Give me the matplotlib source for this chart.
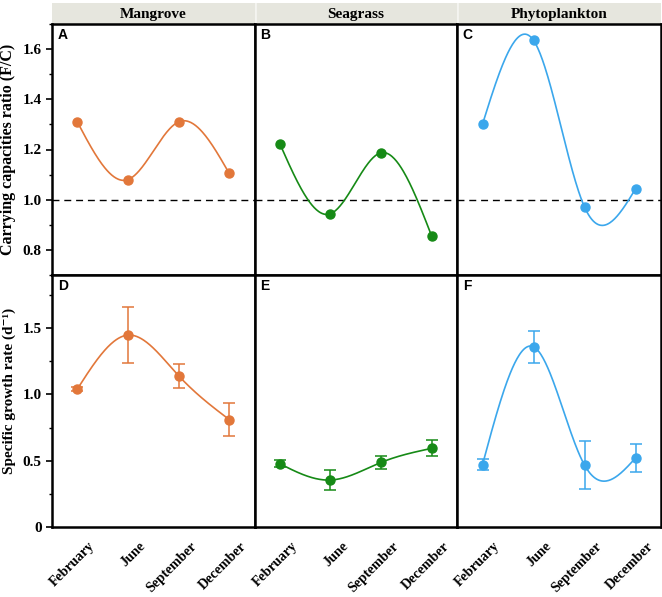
import numpy as np
import matplotlib
matplotlib.use("Agg")
import matplotlib.pyplot as plt
from matplotlib.ticker import MultipleLocator, FixedLocator
from matplotlib.transforms import ScaledTranslation

# ---- data ----
months = ["February", "June", "September", "December"]
groups = ["Mangrove", "Seagrass", "Phytoplankton"]
colors = ["#E2773A", "#168A16", "#3BA7EC"]

ratio_mangrove = [1.31, 1.08, 1.31, 1.105]
ratio_seagrass = [1.223, 0.944, 1.187, 0.855]
ratio_phyto = [1.301, 1.635, 0.971, 1.043]

growth_mangrove = [1.04, 1.447, 1.141, 0.81]
growth_seagrass = [0.477, 0.354, 0.487, 0.593]
growth_phyto = [0.47, 1.359, 0.467, 0.52]

err_mangrove = [0.015, 0.21, 0.09, 0.122]
err_seagrass = [0.027, 0.075, 0.046, 0.06]
err_phyto = [0.04, 0.12, 0.183, 0.108]

ratios = [ratio_mangrove, ratio_seagrass, ratio_phyto]
growths = [growth_mangrove, growth_seagrass, growth_phyto]
errs = [err_mangrove, err_seagrass, err_phyto]
letters_top = ["A", "B", "C"]
letters_bot = ["D", "E", "F"]


def natural_spline(x, y, n=200):
    x = np.asarray(x, float)
    y = np.asarray(y, float)
    k = len(x)
    h = np.diff(x)
    A = np.zeros((k, k))
    r = np.zeros(k)
    A[0, 0] = 1
    A[-1, -1] = 1
    for i in range(1, k - 1):
        A[i, i - 1] = h[i - 1]
        A[i, i] = 2 * (h[i - 1] + h[i])
        A[i, i + 1] = h[i]
        r[i] = 3 * ((y[i + 1] - y[i]) / h[i] - (y[i] - y[i - 1]) / h[i - 1])
    c = np.linalg.solve(A, r)
    xs = np.linspace(x[0], x[-1], n)
    ys = np.empty_like(xs)
    for j, xv in enumerate(xs):
        i = min(np.searchsorted(x, xv, side="right") - 1, k - 2)
        dx = xv - x[i]
        b = (y[i + 1] - y[i]) / h[i] - h[i] * (2 * c[i] + c[i + 1]) / 3
        d = (c[i + 1] - c[i]) / (3 * h[i])
        ys[j] = y[i] + b * dx + c[i] * dx ** 2 + d * dx ** 3
    return xs, ys


W, H = 662, 597
fig = plt.figure(figsize=(W / 100, H / 100), dpi=100)
fig.patch.set_facecolor("white")

serif = ["Liberation Serif", "DejaVu Serif"]
sans = ["Liberation Sans", "DejaVu Sans"]

x = np.arange(1, len(months) + 1)
col_left = [52, 254.5, 457]
col_w = [202.5, 202.5, 204]
top_y0, top_y1 = 24, 275
bot_y0, bot_y1 = 275, 527


def fax(px, py0, pw, py1):
    return fig.add_axes([px / W, 1 - py1 / H, pw / W, (py1 - py0) / H])


label_shift = ScaledTranslation(11 / 100, -1.5 / 100, fig.dpi_scale_trans)

for i in range(3):
    # strip header
    sax = fax(col_left[i], 3, col_w[i], top_y0)
    sax.set_facecolor("#E6E6DE")
    sax.set_xticks([])
    sax.set_yticks([])
    for s in sax.spines.values():
        s.set_visible(False)
    sax.text(0.5, 0.45, groups[i], ha="center", va="center", fontsize=11,
             fontweight="bold", family=serif, transform=sax.transAxes)
    if i > 0:
        sax.axvline(0, color="#F4F4F0", lw=2)

    # top row
    ax = fax(col_left[i], top_y0, col_w[i], top_y1)
    xs, ys = natural_spline(x, ratios[i])
    ax.plot(xs, ys, color=colors[i], lw=1.2, zorder=2)
    ax.plot(x, ratios[i], "o", color=colors[i], ms=6.5, zorder=3)
    ax.axhline(1.0, color="black", ls=(0, (5, 3.5)), lw=1.0, zorder=1)
    ax.set_xlim(0.5, 4.5)
    ax.set_ylim(0.7, 1.7)
    ax.set_xticks([])
    ax.text(0.028, 0.985, letters_top[i], transform=ax.transAxes, ha="left", va="top",
            fontsize=10, fontweight="bold", family=sans)
    for s in ax.spines.values():
        s.set_linewidth(1.8)
    if i == 0:
        ax.yaxis.set_major_locator(FixedLocator([0.8, 1.0, 1.2, 1.4, 1.6]))
        ax.yaxis.set_minor_locator(MultipleLocator(0.1))
        ax.set_yticklabels(["0.8", "1.0", "1.2", "1.4", "1.6"])
        ax.tick_params(axis="y", which="major", length=4, width=1.2, labelsize=11)
        ax.tick_params(axis="y", which="minor", length=2.5, width=1.0)
        for t in ax.get_yticklabels():
            t.set_fontweight("bold")
            t.set_family(serif)
        ax.set_ylabel("Carrying capacities ratio (F/C)", fontsize=11.5,
                      fontweight="bold", family=serif)
        ax.yaxis.set_label_coords(-0.178, 0.5)
    else:
        ax.set_yticks([])
        ax.yaxis.set_minor_locator(FixedLocator([]))

    # bottom row
    bx = fax(col_left[i], bot_y0, col_w[i], bot_y1)
    xs, ys = natural_spline(x, growths[i])
    bx.plot(xs, ys, color=colors[i], lw=1.2, zorder=2)
    bx.errorbar(x, growths[i], yerr=errs[i], fmt="o", color=colors[i], ms=6.5,
                capsize=4.5, elinewidth=1.1, capthick=1.1, zorder=3)
    bx.set_xlim(0.5, 4.5)
    bx.set_ylim(0, 1.9)
    bx.tick_params(axis="x", length=0, pad=8)
    bx.set_xticks(x)
    bx.set_xticklabels(months, rotation=45, ha="right", rotation_mode="anchor",
                       fontsize=10.2, fontweight="bold", family=serif)
    bx.text(0.028, 0.985, letters_bot[i], transform=bx.transAxes, ha="left", va="top",
            fontsize=10, fontweight="bold", family=sans)
    for s in bx.spines.values():
        s.set_linewidth(1.8)
    if i == 0:
        bx.yaxis.set_major_locator(FixedLocator([0, 0.5, 1.0, 1.5]))
        bx.yaxis.set_minor_locator(MultipleLocator(0.25))
        bx.set_yticklabels(["0", "0.5", "1.0", "1.5"])
        bx.tick_params(axis="y", which="major", length=4, width=1.2, labelsize=11)
        bx.tick_params(axis="y", which="minor", length=2.5, width=1.0)
        for t in bx.get_yticklabels():
            t.set_fontweight("bold")
            t.set_family(serif)
        bx.set_ylabel("Specific growth rate (d\u207b\u00b9)", fontsize=11,
                      fontweight="bold", family=serif)
        bx.yaxis.set_label_coords(-0.178, 0.54)
    else:
        bx.set_yticks([])
        bx.yaxis.set_minor_locator(FixedLocator([]))
    for t in bx.get_xticklabels():
        t.set_transform(t.get_transform() + label_shift)

fig.savefig("out.png", dpi=100)
